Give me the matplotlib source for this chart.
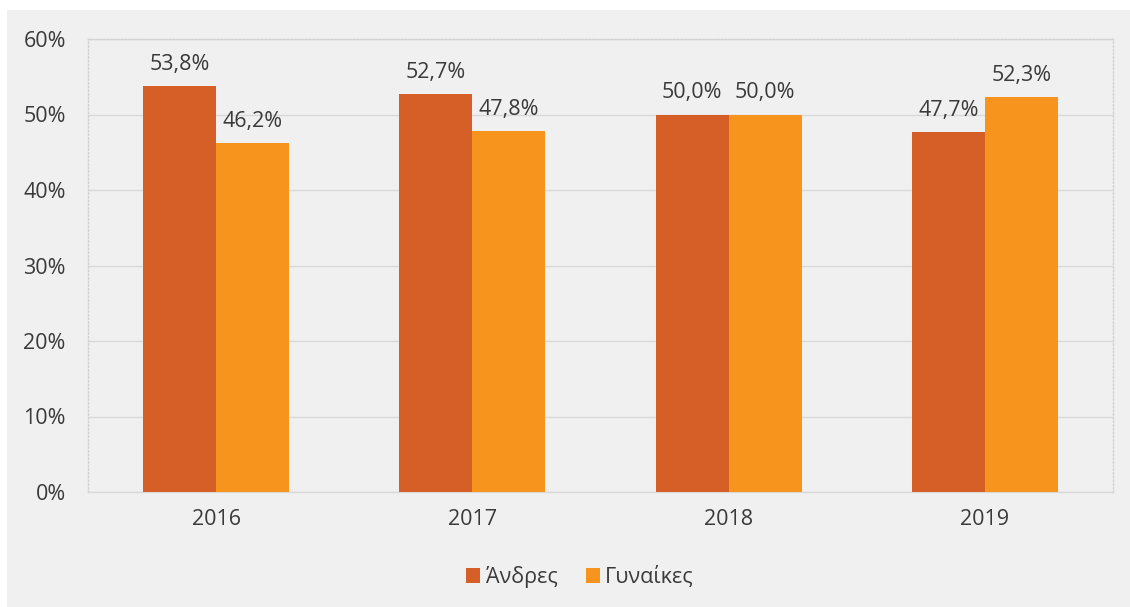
import numpy as np
import matplotlib.pyplot as plt
from matplotlib.patches import Rectangle

# Δεδομένα
years = ['2016', '2017', '2018', '2019']
andres = [53.8, 52.7, 50.0, 47.7]
gynaikes = [46.2, 47.8, 50.0, 52.3]
series_names = ['Άνδρες', 'Γυναίκες']
colors = ['#D65F28', '#F7941E']

plt.rcParams['font.family'] = ['Open Sans', 'DejaVu Sans']
FS = 15.5

fig = plt.figure(figsize=(11.3, 6.07), dpi=100)
fig.patch.set_facecolor('white')
# γκρι φόντο γραφήματος
fig.patches.append(Rectangle((7 / 1130, 0), 1 - 7 / 1130, 1 - 10 / 607,
                             transform=fig.transFigure, facecolor='#F0F0F0',
                             edgecolor='none', zorder=-5))

ax = fig.add_axes([88 / 1130, 1 - 492 / 607, (1113 - 88) / 1130, (492 - 39) / 607])
ax.set_facecolor('#F0F0F0')

x = np.arange(len(years))
w = 0.285
b1 = ax.bar(x - w / 2, andres, w, color=colors[0], label=series_names[0], zorder=3)
b2 = ax.bar(x + w / 2, gynaikes, w, color=colors[1], label=series_names[1], zorder=3)

for bars, vals in ((b1, andres), (b2, gynaikes)):
    for r, v in zip(bars, vals):
        ax.annotate(f'{v:.1f}%'.replace('.', ','), (r.get_x() + r.get_width() / 2, v),
                    xytext=(0, 8), textcoords='offset points', ha='center', va='bottom',
                    fontsize=FS, color='#3A3A3A')

ax.set_xlim(-0.5, len(years) - 0.5)
ax.set_ylim(0, 60)
ax.set_yticks(np.arange(0, 61, 10))
ax.set_yticklabels([f'{t}%' for t in range(0, 61, 10)])
ax.set_xticks(x)
ax.set_xticklabels(years)
ax.tick_params(axis='both', length=0, labelsize=FS, labelcolor='#3A3A3A')
ax.tick_params(axis='y', pad=16)
ax.tick_params(axis='x', pad=12)
ax.grid(axis='y', color='#D9D9D9', linewidth=1, zorder=0)

for s in ax.spines.values():
    s.set_color('#D0D0D0')
    s.set_linestyle(':')
    s.set_linewidth(1)
ax.spines['bottom'].set_linestyle('-')
ax.spines['bottom'].set_color('#D9D9D9')

leg = fig.legend(loc='center', bbox_to_anchor=(580 / 1130, 1 - 577 / 607), ncol=2,
                 frameon=False, fontsize=FS, handlelength=0.65, handleheight=0.65,
                 handletextpad=0.25, columnspacing=1.3)
for t in leg.get_texts():
    t.set_color('#3A3A3A')

fig.savefig('out.png', dpi=100, facecolor=fig.get_facecolor())
